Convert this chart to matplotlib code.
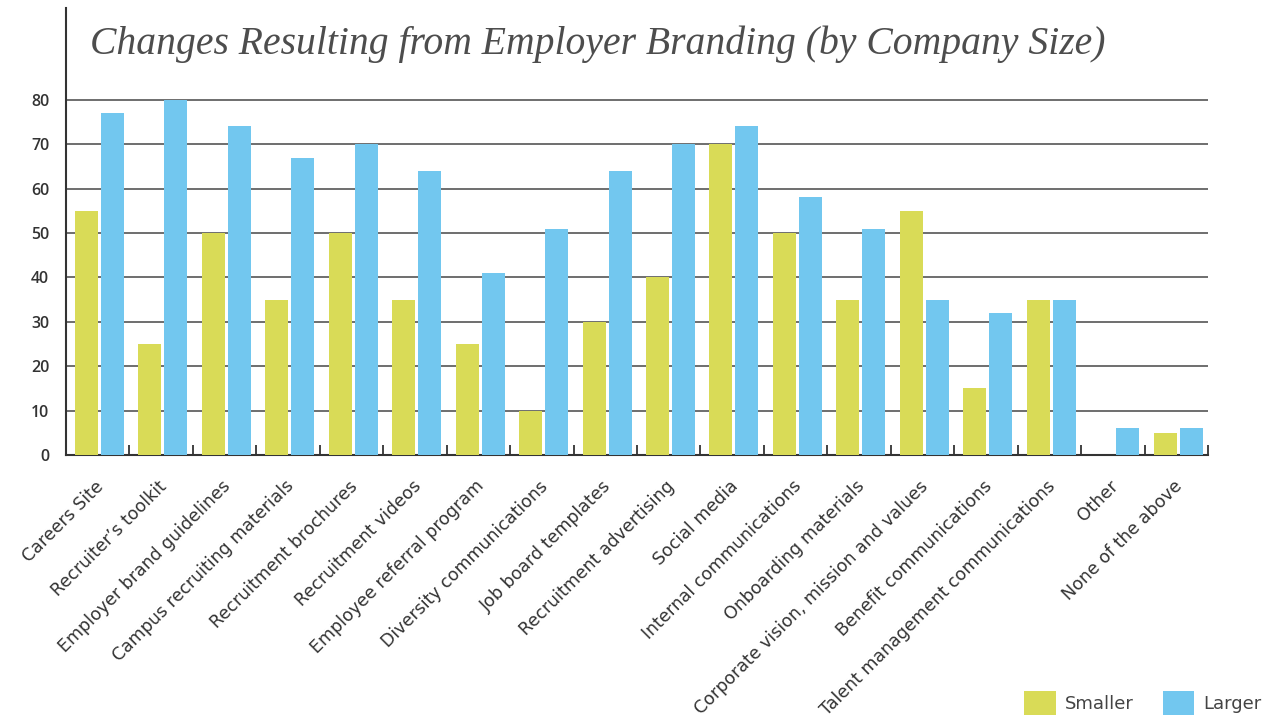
import matplotlib.pyplot as plt
import numpy as np

# Share of companies reporting each change, by company size (%)
categories = [
    'Careers Site', "Recruiter\u2019s toolkit", 'Employer brand guidelines',
    'Campus recruiting materials', 'Recruitment brochures', 'Recruitment videos',
    'Employee referral program', 'Diversity communications', 'Job board templates',
    'Recruitment advertising', 'Social media', 'Internal communications',
    'Onboarding materials', 'Corporate vision, mission and values',
    'Benefit communications', 'Talent management communications',
    'Other', 'None of the above',
]
smaller = [55, 25, 50, 35, 50, 35, 25, 10, 30, 40, 70, 50, 35, 55, 15, 35, 0, 5]
larger = [77, 80, 74, 67, 70, 64, 41, 51, 64, 70, 74, 58, 51, 35, 32, 35, 6, 6]
yticks = [0, 10, 20, 30, 40, 50, 60, 70, 80]

YELLOW = '#d9db57'
BLUE = '#72c7ef'
TEXT = '#333333'

fig = plt.figure(figsize=(12.64, 7.21), dpi=100)
ax = fig.add_axes([0.0522, 0.369, 0.9035, 0.62])

x = np.arange(len(categories))
w = 0.363
ax.bar(x - 0.177, smaller, width=w, color=YELLOW, label='Smaller', zorder=3)
ax.bar(x + 0.233, larger, width=w, color=BLUE, label='Larger', zorder=3)

ax.set_xlim(-0.5, len(categories) - 0.5)
ax.set_ylim(0, 100.7)

# horizontal guide lines
ax.set_yticks(yticks)
ax.set_yticklabels([str(v) for v in yticks], fontfamily='Open Sans',
                   fontweight='semibold', fontsize=11.5, color=TEXT)
ax.yaxis.grid(True, color='#555555', lw=1.2, zorder=1)
ax.tick_params(axis='y', length=0, pad=12)

# category labels at group centres, divider ticks between groups
ax.set_xticks(x - 0.05)
ax.set_xticklabels(categories, rotation=45, ha='right', rotation_mode='anchor',
                   fontfamily='DejaVu Sans', fontsize=12.5, color=TEXT)
ax.tick_params(axis='x', which='major', length=0, pad=16)
ax.set_xticks(np.append(x[1:] - 0.5, len(categories) - 0.5), minor=True)
ax.tick_params(axis='x', which='minor', direction='in', length=7, width=1.3,
               color='#333333')

for side in ['top', 'right']:
    ax.spines[side].set_visible(False)
for side in ['left', 'bottom']:
    ax.spines[side].set_color('#333333')
    ax.spines[side].set_linewidth(1.5)

fig.text(0.071, 0.938, 'Changes Resulting from Employer Branding (by Company Size)',
         fontfamily='Liberation Serif', style='italic', fontsize=28.5, color='#4d4d4d',
         va='center', ha='left')

fig.legend(loc='lower right', bbox_to_anchor=(1.011, -0.014), ncol=2, frameon=False,
           handlelength=1.75, handleheight=1.65, handletextpad=0.5, columnspacing=1.6,
           prop={'family': 'DejaVu Sans', 'size': 13}, labelcolor='#444444')

fig.savefig('out.png', dpi=100)
